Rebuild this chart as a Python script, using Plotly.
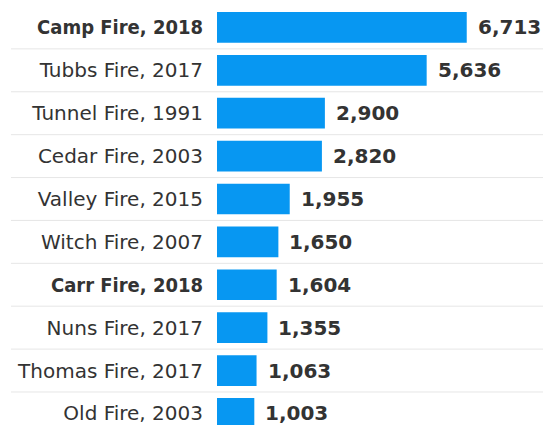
import plotly.graph_objects as go

fires = ["Camp Fire, 2018", "Tubbs Fire, 2017", "Tunnel Fire, 1991", "Cedar Fire, 2003",
         "Valley Fire, 2015", "Witch Fire, 2007", "Carr Fire, 2018", "Nuns Fire, 2017",
         "Thomas Fire, 2017", "Old Fire, 2003"]
structures = [6713, 5636, 2900, 2820, 1955, 1650, 1604, 1355, 1063, 1003]
bold_fires = ["Camp Fire, 2018", "Carr Fire, 2018"]

ypos = list(range(len(fires)))
ticktext = [f"<span style='font-family:DejaVu Sans Condensed'><b>{f}</b></span>"
            if f in bold_fires else f for f in fires]

FONT = "DejaVu Sans"
TXT = "#333333"

fig = go.Figure()
fig.add_trace(go.Bar(
    x=structures, y=ypos, orientation="h", width=0.716,
    marker=dict(color="#0797F2", line=dict(width=0)),
    hoverinfo="skip",
))

for v, y in zip(structures, ypos):
    fig.add_annotation(x=v, y=y, text=f"<b>{v:,}</b>", showarrow=False,
                       xanchor="left", yanchor="middle", xshift=9,
                       font=dict(family=FONT, size=20, color=TXT))

for i in range(len(fires) - 1):
    fig.add_shape(type="line", xref="paper", yref="y",
                  x0=-0.632, x1=1.0, y0=i + 0.5, y1=i + 0.5,
                  line=dict(color="#e6e6e6", width=1), layer="below")

fig.update_layout(
    width=543, height=425,
    margin=dict(l=217, r=0, t=6, b=0),
    paper_bgcolor="white", plot_bgcolor="white",
    showlegend=False,
    font=dict(family=FONT, color=TXT),
    xaxis=dict(range=[0, 8763], visible=False, fixedrange=True),
    yaxis=dict(range=[9.27, -0.5], tickvals=ypos, ticktext=ticktext,
               showgrid=False, zeroline=False, showline=False,
               ticks="", ticklabelstandoff=13, ticklabeloverflow="allow",
               tickfont=dict(family=FONT, size=20, color=TXT), fixedrange=True),
)

fig.write_html("out.html", config={"displayModeBar": False})
